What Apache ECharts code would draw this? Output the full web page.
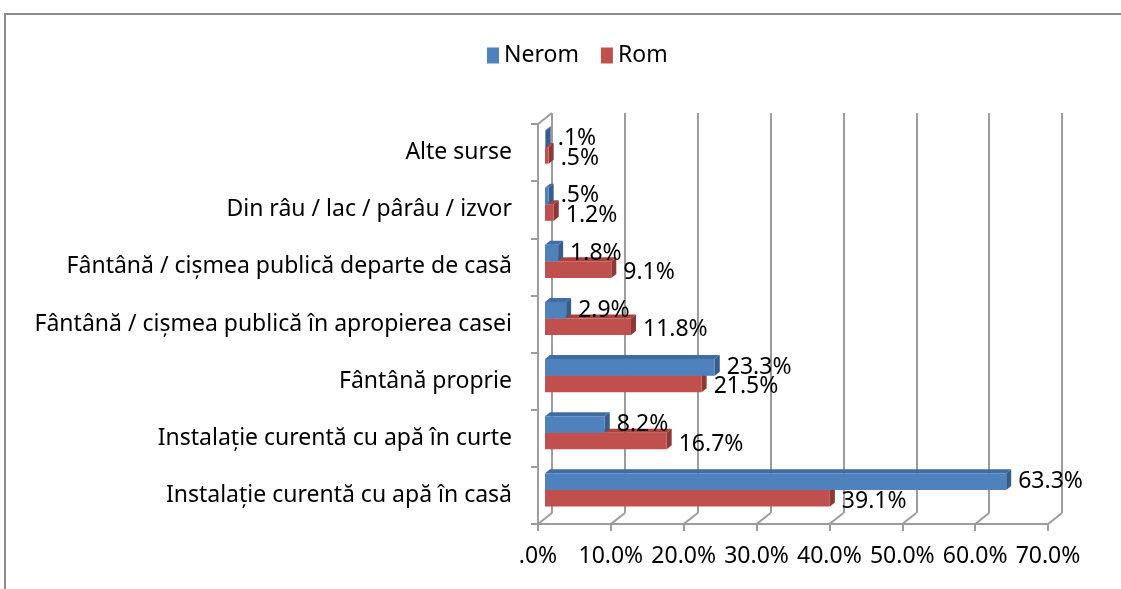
<!DOCTYPE html>
<html>
<head>
<meta charset="utf-8">
<script src="https://cdn.jsdelivr.net/npm/echarts@6/dist/echarts.min.js"></script>
<style>
  html, body { margin: 0; padding: 0; background: #fff; }
  #main { width: 1121px; height: 589px; }
</style>
</head>
<body>
<div id="main"></div>
<script>
  // categories, bottom to top
  var categories = [
    "Instalație curentă cu apă în casă",
    "Instalație curentă cu apă în curte",
    "Fântână proprie",
    "Fântână / cișmea publică în apropierea casei",
    "Fântână / cișmea publică departe de casă",
    "Din râu / lac / pârâu / izvor",
    "Alte surse"
  ];
  var nerom = [63.3, 8.2, 23.3, 2.9, 1.8, 0.5, 0.1];
  var rom = [39.1, 16.7, 21.5, 11.8, 9.1, 1.2, 0.5];
  var xTicks = [0, 10, 20, 30, 40, 50, 60, 70];

  var FONT = "Noto Sans";
  var FS = 23;
  var DX = 5, DY = 4; // bar depth

  function pct(v) {
    var s = v.toFixed(1);
    if (s.indexOf("0.") === 0) s = s.slice(1);
    return s + "%";
  }

  // draws a 3D-looking bar, upper=true puts it above the category centre
  function bar3d(upper, front, dark, side) {
    return function (params, api) {
      var v = api.value(0), idx = api.value(1);
      var p0 = api.coord([0, idx]);
      var p1 = api.coord([v, idx]);
      var band = api.size([0, 1])[1];
      var h = band * 0.29;
      var y0 = upper ? p0[1] - h : p0[1];
      var y1 = y0 + h;
      var x0 = p0[0], x1 = p1[0];
      return {
        type: "group",
        children: [
          { type: "polygon", shape: { points: [[x0, y0], [x0 + DX, y0 - DY], [x1 + DX, y0 - DY], [x1, y0]] },
            style: { fill: dark } },
          { type: "polygon", shape: { points: [[x1, y0], [x1 + DX, y0 - DY], [x1 + DX, y1 - DY], [x1, y1]] },
            style: { fill: side } },
          { type: "rect", shape: { x: x0, y: y0, width: x1 - x0, height: h },
            style: { fill: front } },
          { type: "text", style: { text: pct(v), x: x1 + DX + 7, y: (y0 + y1) / 2 + (upper ? 0 : 3),
            verticalAlign: "middle", align: "left", fill: "#000", font: FS + "px '" + FONT + "'" } }
        ]
      };
    };
  }

  var chart = echarts.init(document.getElementById("main"));
  var gridW = 510, gridH = 400;

  var option = {
    backgroundColor: "#fff",
    animation: false,
    textStyle: { fontFamily: FONT },
    legend: {
      data: [
        { name: "Nerom", itemStyle: { color: "#4F81BD" } },
        { name: "Rom", itemStyle: { color: "#C0504D" } }
      ],
      top: 39,
      left: 482,
      icon: "rect",
      itemWidth: 12,
      itemHeight: 16,
      itemGap: 22,
      textStyle: { fontSize: FS, color: "#000", fontFamily: FONT }
    },
    grid: [
      { left: 538, top: 124, width: gridW, height: gridH },       // front
      { left: 545, top: 118.5, width: gridW, height: gridH },     // bars
      { left: 552, top: 113, width: gridW, height: gridH }        // back wall
    ],
    xAxis: [
      { gridIndex: 0, type: "value", min: 0, max: 70, interval: 10,
        axisLine: { show: true, lineStyle: { color: "#9c9c9c", width: 2 } },
        axisTick: { show: true, length: 7, lineStyle: { color: "#9c9c9c", width: 2 } },
        splitLine: { show: false },
        axisLabel: { margin: 21, fontSize: FS, color: "#000", fontFamily: FONT, formatter: pct } },
      { gridIndex: 1, type: "value", min: 0, max: 70, interval: 10, show: false },
      { gridIndex: 2, type: "value", min: 0, max: 70, interval: 10,
        axisLine: { show: false }, axisTick: { show: false }, axisLabel: { show: false },
        splitLine: { show: true, lineStyle: { color: "#9c9c9c", width: 2 } } }
    ],
    yAxis: [
      { gridIndex: 0, type: "category", data: categories,
        axisLine: { show: true, lineStyle: { color: "#9c9c9c", width: 2 } },
        axisTick: { show: true, length: 7, lineStyle: { color: "#9c9c9c", width: 2 } },
        axisLabel: { margin: 26, fontSize: FS, color: "#000", fontFamily: FONT } },
      { gridIndex: 1, type: "category", data: categories, show: false },
      { gridIndex: 2, type: "category", data: categories, show: false }
    ],
    series: [
      { name: "Rom", type: "custom", xAxisIndex: 1, yAxisIndex: 1,
        itemStyle: { color: "#C0504D" },
        renderItem: bar3d(false, "#C0504D", "#A8423F", "#8C3836"),
        data: rom.map(function (v, i) { return [v, i]; }) },
      { name: "Nerom", type: "custom", xAxisIndex: 1, yAxisIndex: 1,
        itemStyle: { color: "#4F81BD" },
        renderItem: bar3d(true, "#4F81BD", "#3F6CA3", "#385D8A"),
        data: nerom.map(function (v, i) { return [v, i]; }) }
    ]
  };
  chart.setOption(option);

  // floor/wall joints from the front axis to the back wall
  var lines = [];
  xTicks.forEach(function (t) {
    var a = chart.convertToPixel({ xAxisIndex: 0 }, t);
    var b = chart.convertToPixel({ xAxisIndex: 2 }, t);
    lines.push({ type: "line", shape: { x1: a, y1: 524, x2: b, y2: 513 },
      style: { stroke: "#9c9c9c", lineWidth: 2 } });
  });
  lines.push({ type: "line", shape: { x1: 538, y1: 124, x2: 552, y2: 113 },
    style: { stroke: "#9c9c9c", lineWidth: 2 } });
  // outer chart border
  lines.push({ type: "polyline", shape: { points: [[5, 589], [5, 14], [1121, 14]] },
    style: { stroke: "#8c8c8c", lineWidth: 2, fill: null } });
  chart.setOption({ graphic: lines });
</script>
</body>
</html>
